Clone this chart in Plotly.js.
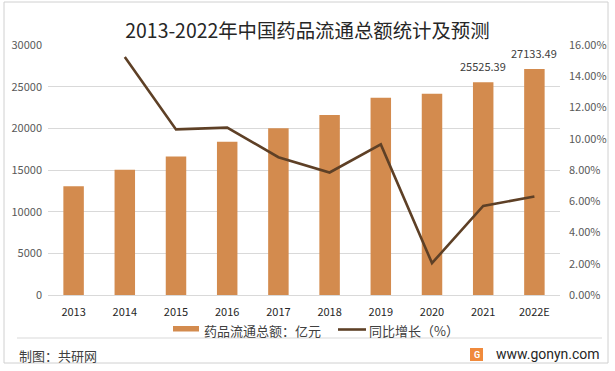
<!DOCTYPE html>
<html>
<head>
<meta charset="utf-8">
<script src="https://cdn.plot.ly/plotly-3.0.1.min.js"></script>
<style>
html,body{margin:0;padding:0;background:#fff;}
#chart{width:615px;height:371px;}
</style>
</head>
<body>
<div id="chart"></div>
<script>
const years = ['2013','2014','2015','2016','2017','2018','2019','2020','2021','2022E'];
const totalValues = [13036, 15021, 16613, 18393, 20016, 21586, 23667, 24149, 25525.39, 27133.49];
const growthRates = [null, 0.1523, 0.1060, 0.1071, 0.0882, 0.0784, 0.0964, 0.0204, 0.0570, 0.0630];
const labeledYears = ['2021','2022E'];
const barName = '药品流通总额：亿元';
const lineName = '同比增长（%）';

const FONT = '"Noto Sans CJK SC", "Noto Sans", sans-serif';
const BAR_COLOR = '#D38B4E';
const LINE_COLOR = '#5E4026';

const W = 615, H = 371, L = 48, R = 55, T = 45, B = 76;
const pw = W - L - R, ph = H - T - B;
const px = x => (x - L) / pw;
const py = y => (H - B - y) / ph;

const traces = [
  {
    type: 'bar', name: barName, x: years, y: totalValues,
    marker: {color: BAR_COLOR}, showlegend: false, hoverinfo: 'x+y'
  },
  {
    type: 'scatter', mode: 'lines', name: lineName, x: years, y: growthRates,
    yaxis: 'y2', line: {color: LINE_COLOR, width: 2.6}, connectgaps: false, showlegend: false
  }
];

// category index is used as the annotation x so numeric-looking year strings are not read as numbers
const dataLabels = years.map((y, i) => labeledYears.includes(y) ? {
  text: totalValues[i].toFixed(2), x: i, y: totalValues[i], xref: 'x', yref: 'y',
  xanchor: 'center', yanchor: 'bottom', yshift: 6, showarrow: false,
  font: {size: 11, color: '#404040', family: FONT}
} : null).filter(Boolean);

const layout = {
  width: W, height: H,
  margin: {l: L, r: R, t: T, b: B},
  paper_bgcolor: '#fff', plot_bgcolor: '#fff',
  font: {family: FONT, size: 11, color: '#595959'},
  title: {text: '2013-2022年中国药品流通总额统计及预测', font: {size: 19.4, color: '#262626', family: FONT},
          x: 0.5, xref: 'container', y: 1 - 31/H, yref: 'container', yanchor: 'middle'},
  bargap: 0.6,
  showlegend: false,
  xaxis: {type: 'category', categoryarray: years, categoryorder: 'array', range: [-0.5, years.length - 0.5],
          showgrid: false, showline: true, linecolor: '#d9d9d9', linewidth: 1,
          ticks: '', ticklabelstandoff: 7, tickfont: {size: 11, color: '#262626'}},
  yaxis: {range: [0, 30000], dtick: 5000, tickformat: 'd', showgrid: true, gridcolor: '#d9d9d9',
          zeroline: false, showline: false, ticks: '', ticklabelstandoff: 5,
          tickfont: {size: 11, color: '#595959'}},
  yaxis2: {overlaying: 'y', side: 'right', range: [0, 0.16], dtick: 0.02, tickformat: '.2%',
           showgrid: false, zeroline: false, showline: false, ticks: '', ticklabelstandoff: 8,
           tickfont: {size: 11, color: '#595959'}},
  shapes: [
    {type: 'rect', xref: 'paper', yref: 'paper', x0: px(4), x1: px(608), y0: py(363), y1: py(2),
     line: {color: '#d0d0d0', width: 1}, layer: 'below'},
    {type: 'line', xref: 'paper', yref: 'paper', x0: px(17), x1: px(602), y0: py(338), y1: py(338),
     line: {color: '#d9d9d9', width: 1}},
    {type: 'rect', xref: 'paper', yref: 'paper', x0: px(173), x1: px(199), y0: py(331.5), y1: py(326),
     fillcolor: BAR_COLOR, line: {width: 0}},
    {type: 'line', xref: 'paper', yref: 'paper', x0: px(338), x1: px(366), y0: py(329.5), y1: py(329.5),
     line: {color: LINE_COLOR, width: 2.6}},
    {type: 'rect', xref: 'paper', yref: 'paper', x0: px(470), x1: px(483), y0: py(361), y1: py(348),
     fillcolor: '#F08A3C', line: {width: 0}}
  ],
  annotations: dataLabels.concat([
    {text: barName, xref: 'paper', yref: 'paper', x: px(202), y: py(330), xanchor: 'left', yanchor: 'middle',
     showarrow: false, font: {size: 13, color: '#404040'}},
    {text: lineName, xref: 'paper', yref: 'paper', x: px(367), y: py(330), xanchor: 'left', yanchor: 'middle',
     showarrow: false, font: {size: 13, color: '#404040'}},
    {text: '制图：共研网', xref: 'paper', yref: 'paper', x: px(17), y: py(355), xanchor: 'left', yanchor: 'middle',
     showarrow: false, font: {size: 13, color: '#404040'}},
    {text: 'www.gonyn.com', xref: 'paper', yref: 'paper', x: px(602), y: py(354), xanchor: 'right', yanchor: 'middle',
     showarrow: false, font: {size: 14, color: '#262626', family: 'Roboto, "Open Sans", sans-serif'}},
    {text: '<b>G</b>', xref: 'paper', yref: 'paper', x: px(476.5), y: py(354.5), xanchor: 'center', yanchor: 'middle',
     showarrow: false, font: {size: 9, color: '#ffffff', family: 'Roboto, sans-serif'}}
  ])
};

Plotly.newPlot('chart', traces, layout, {displayModeBar: false, staticPlot: true});
</script>
</body>
</html>
